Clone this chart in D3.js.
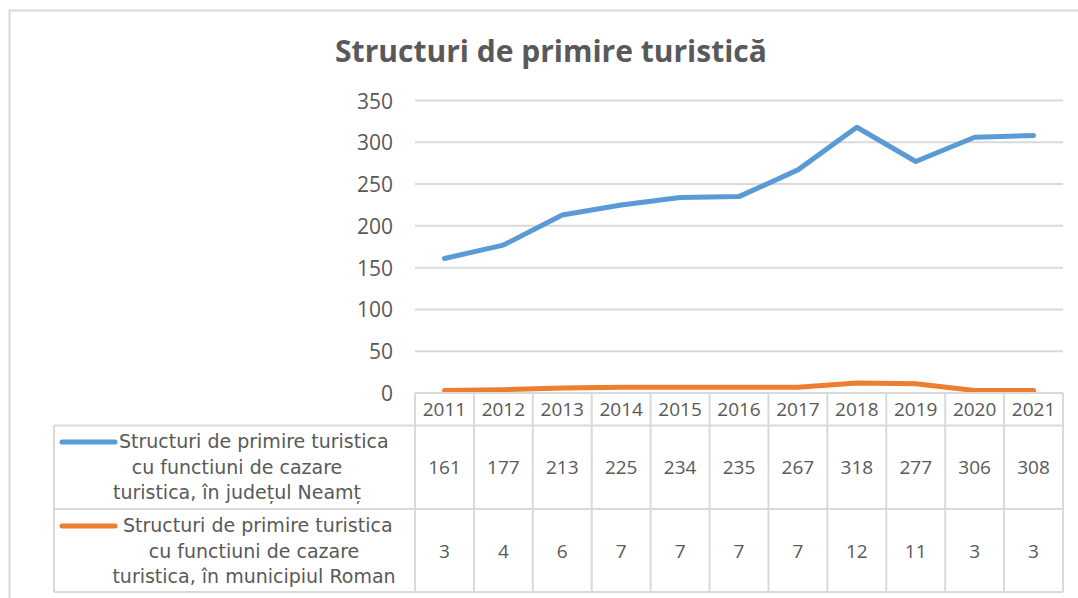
<!DOCTYPE html>
<html>
<head>
<meta charset="utf-8">
<script src="https://cdn.jsdelivr.net/npm/d3@7"></script>
<style>
  body { margin: 0; background: #fff; }
  text { fill: #595959; }
</style>
</head>
<body>
<div id="chart"></div>
<script>
var years = ["2011","2012","2013","2014","2015","2016","2017","2018","2019","2020","2021"];
var neamtValues = [161, 177, 213, 225, 234, 235, 267, 318, 277, 306, 308];
var romanValues = [3, 4, 6, 7, 7, 7, 7, 12, 11, 3, 3];
var yTicks = [0, 50, 100, 150, 200, 250, 300, 350];
var seriesNames = [
  ["Structuri de primire turistica", "cu functiuni de cazare", "turistica, în județul Neamț"],
  ["Structuri de primire turistica", "cu functiuni de cazare", "turistica, în municipiul Roman"]
];
var seriesColors = ["#5b9bd5", "#ed7d31"];

var width = 1078, height = 598;
var plotLeft = 415, plotRight = 1063, plotTop = 100.5, plotBottom = 393;
var tableLeft = 54, headerBottom = 425.5, row1Bottom = 509, row2Bottom = 592;

var svg = d3.select("#chart").append("svg")
    .attr("width", width)
    .attr("height", height);

svg.append("rect").attr("width", width).attr("height", height).attr("fill", "#fff");

// outer chart frame
svg.append("rect")
    .attr("x", 9.5).attr("y", 10.5)
    .attr("width", width + 20).attr("height", height + 20)
    .attr("fill", "none")
    .attr("stroke", "#d9d9d9")
    .attr("stroke-width", 2);

svg.append("text")
    .attr("x", 551).attr("y", 62)
    .attr("text-anchor", "middle")
    .style("font-family", "'Open Sans', sans-serif")
    .style("font-weight", "bold")
    .style("font-size", "30px")
    .text("Structuri de primire turistică");

var x = d3.scaleBand().domain(years).range([plotLeft, plotRight]);
var y = d3.scaleLinear().domain([0, 350]).range([plotBottom, plotTop]);

// gridlines
svg.append("g").selectAll("line")
    .data(yTicks.filter(function(d) { return d > 0; }))
    .enter().append("line")
    .attr("x1", plotLeft).attr("x2", plotRight)
    .attr("y1", function(d) { return y(d); })
    .attr("y2", function(d) { return y(d); })
    .attr("stroke", "#d9d9d9")
    .attr("stroke-width", 2);

// y axis labels
var yAxis = svg.append("g")
    .attr("transform", "translate(" + (plotLeft - 22) + ",0)")
    .call(d3.axisLeft(y).tickValues(yTicks).tickSize(0).tickPadding(0));
yAxis.select(".domain").remove();
yAxis.selectAll("text")
    .attr("dy", "0.36em")
    .style("font-family", "'Open Sans', sans-serif")
    .style("font-size", "21px")
    .attr("fill", "#595959");

// lines
var line = d3.line()
    .x(function(d, i) { return x(years[i]) + x.bandwidth() / 2; })
    .y(function(d) { return y(d); });

[neamtValues, romanValues].forEach(function(vals, i) {
  svg.append("path")
      .datum(vals)
      .attr("d", line)
      .attr("fill", "none")
      .attr("stroke", seriesColors[i])
      .attr("stroke-width", 5)
      .attr("stroke-linecap", "round")
      .attr("stroke-linejoin", "round");
});

// data table
var grid = svg.append("g")
    .attr("stroke", "#d9d9d9")
    .attr("stroke-width", 2);

grid.append("line").attr("x1", plotLeft).attr("x2", plotRight).attr("y1", plotBottom).attr("y2", plotBottom);
grid.append("line").attr("x1", tableLeft).attr("x2", plotRight).attr("y1", headerBottom).attr("y2", headerBottom);
grid.append("line").attr("x1", tableLeft).attr("x2", plotRight).attr("y1", row1Bottom).attr("y2", row1Bottom);
grid.append("line").attr("x1", tableLeft).attr("x2", plotRight).attr("y1", row2Bottom).attr("y2", row2Bottom);
grid.append("line").attr("x1", tableLeft).attr("x2", tableLeft).attr("y1", headerBottom).attr("y2", row2Bottom);
grid.selectAll(".vline")
    .data(years.concat(["end"]))
    .enter().append("line")
    .attr("x1", function(d, i) { return plotLeft + i * x.bandwidth(); })
    .attr("x2", function(d, i) { return plotLeft + i * x.bandwidth(); })
    .attr("y1", plotBottom).attr("y2", row2Bottom);

var numFont = "'Open Sans', sans-serif";

svg.append("g").selectAll("text")
    .data(years)
    .enter().append("text")
    .attr("x", function(d) { return x(d) + x.bandwidth() / 2; })
    .attr("y", 416)
    .attr("text-anchor", "middle")
    .style("font-family", numFont)
    .style("font-size", "19px")
    .text(function(d) { return d; });

var rowBaselines = [474, 558];
[neamtValues, romanValues].forEach(function(vals, r) {
  svg.append("g").selectAll("text")
      .data(vals)
      .enter().append("text")
      .attr("x", function(d, i) { return x(years[i]) + x.bandwidth() / 2; })
      .attr("y", rowBaselines[r])
      .attr("text-anchor", "middle")
      .style("font-family", numFont)
      .style("font-size", "19px")
      .text(function(d) { return d; });
});

// row labels with legend keys
var keyY = [442, 526];
var firstLineStart = [119, 123];
var labelCenters = [237, 254];
var firstBaselines = [448, 532];
seriesNames.forEach(function(lines, r) {
  svg.append("line")
      .attr("x1", 62).attr("x2", 115)
      .attr("y1", keyY[r]).attr("y2", keyY[r])
      .attr("stroke", seriesColors[r])
      .attr("stroke-width", 5)
      .attr("stroke-linecap", "round");
  svg.append("g").selectAll("text")
      .data(lines)
      .enter().append("text")
      .attr("x", function(d, i) { return i === 0 ? firstLineStart[r] : labelCenters[r]; })
      .attr("y", function(d, i) { return firstBaselines[r] + i * 25.5; })
      .attr("text-anchor", function(d, i) { return i === 0 ? "start" : "middle"; })
      .style("font-family", "'DejaVu Sans', sans-serif")
      .style("font-size", "19px")
      .text(function(d) { return d; });
});
</script>
</body>
</html>
